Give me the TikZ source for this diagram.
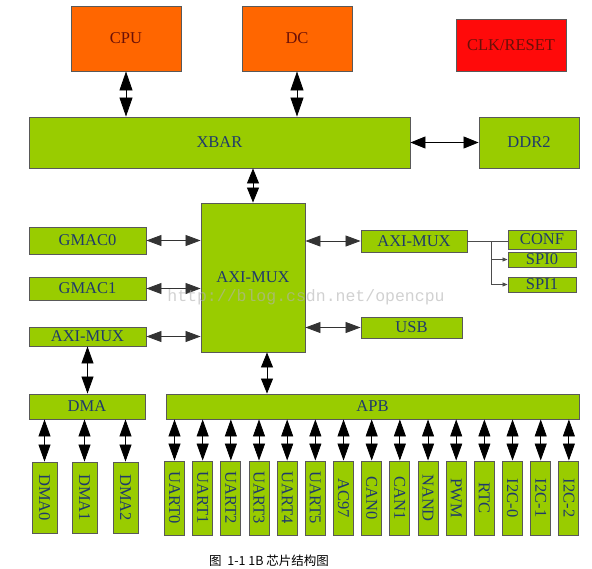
\documentclass[tikz,border=0pt]{standalone}
\usepackage{fontspec}
\setmainfont{Liberation Serif}
\setmonofont{Liberation Mono}
\newfontfamily\cjk{Noto Sans CJK SC}
\usetikzlibrary{arrows.meta}
\definecolor{blkgreen}{HTML}{99CC00}
\definecolor{blkorange}{HTML}{FF6600}
\definecolor{blkred}{HTML}{FF0A0A}
\definecolor{txtblue}{HTML}{1F3A6B}
\definecolor{txtred}{HTML}{6A1008}
\begin{document}
\begin{tikzpicture}[x=1pt, y=-1pt,
        box/.style={draw=black!65, line width=0.9pt, inner sep=0pt, font=\fontsize{16.5}{18}\selectfont},
        gbox/.style={box, fill=blkgreen, text=txtblue},
        obox/.style={box, fill=blkorange, text=txtred},
        vbox/.style={gbox, minimum width=20, minimum height=74},
        bigarr/.style={{Triangle[length=19pt,width=13pt]}-{Triangle[length=19pt,width=13pt]}, line width=0.8pt},
        midarr/.style={{Triangle[length=15pt,width=12pt]}-{Triangle[length=15pt,width=12pt]}, line width=0.8pt},
        lowarr/.style={{Triangle[length=17pt,width=12pt]}-{Triangle[length=17pt,width=12pt]}, line width=0.8pt},
        harr/.style={{Triangle[length=15pt,width=11pt]}-{Triangle[length=15pt,width=11pt]}, line width=0.8pt, draw=black!80},
        tiparr/.style={-{Triangle[length=5pt,width=4pt]}, line width=0.7pt, draw=black!70}]
    \useasboundingbox (0,0) rectangle (592,568);
    % top row
    \node[obox, minimum width=110, minimum height=65] (cpu) at (126,38.5) {CPU};
    \node[obox, minimum width=110, minimum height=65] (dc) at (297,38.5) {DC};
    \node[box, fill=blkred, text=txtred, minimum width=110, minimum height=52] (clk) at (511,45) {CLK/RESET};
    \node[gbox, minimum width=381, minimum height=51] (xbar) at (219.5,142.5) {XBAR};
    \node[gbox, minimum width=100, minimum height=51] (ddr) at (529,142.5) {DDR2};
    % middle
    \node[gbox, minimum width=104, minimum height=149] (axi) at (253,277.5) {AXI-MUX};
    \node[gbox, minimum width=117, minimum height=27] (gmac0) at (87.5,240.5) {GMAC0};
    \node[gbox, minimum width=117, minimum height=23] (gmac1) at (87.5,288.5) {GMAC1};
    \node[gbox, minimum width=117, minimum height=19] (lmux) at (87.5,336.5) {AXI-MUX};
    \node[gbox, minimum width=106, minimum height=22] (rmux) at (414,241) {AXI-MUX};
    \node[gbox, minimum width=68, minimum height=19] (conf) at (542,239.5) {CONF};
    \node[gbox, minimum width=68, minimum height=15] (spi0) at (542,259.5) {SPI0};
    \node[gbox, minimum width=68, minimum height=15] (spi1) at (542,284.5) {SPI1};
    \node[gbox, minimum width=101, minimum height=21] (usb) at (411.5,327.5) {USB};
    % buses
    \node[gbox, minimum width=116, minimum height=25] (dma) at (87,406.5) {DMA};
    \node[gbox, minimum width=413, minimum height=25] (apb) at (372.5,406.5) {APB};
    \foreach \n/\x in {0/44.5,1/84.5,2/125.5}
        \node[vbox, minimum width=25, minimum height=71] (dma\n) at (\x,497.5) {\rotatebox{-90}{DMA\n}};
    \foreach \lbl [count=\i from 0] in {UART0,UART1,UART2,UART3,UART4,UART5,AC97,CAN0,CAN1,NAND,PWM,RTC,I2C-0,I2C-1,I2C-2}
        \node[vbox] (p\i) at ({174.5+28.17*\i},498) {\rotatebox{-90}{\lbl}};
    % connections
    \draw[bigarr] (cpu) -- (xbar.north -| cpu);
    \draw[bigarr] (dc) -- (xbar.north -| dc);
    \draw[midarr] (xbar) -- (ddr);
    \draw[midarr] (axi) -- (xbar.south -| axi);
    \draw[harr] (gmac0) -- (axi.west |- gmac0);
    \draw[harr] (gmac1) -- (axi.west |- gmac1);
    \draw[harr] (lmux) -- (axi.west |- lmux);
    \draw[harr] (axi.east |- rmux) -- (rmux);
    \draw[harr] (axi.east |- usb) -- (usb);
    \coordinate (apbin) at ([xshift=14pt]axi.south);
    \draw[midarr] (apbin) -- (apb.north -| apbin);
    \draw[lowarr] (lmux) -- (dma.north -| lmux);
    \foreach \i in {0,1,2}
        \draw[lowarr] (dma.south -| dma\i) -- (dma\i);
    \foreach \i in {0,...,14}
        \draw[lowarr] (apb.south -| p\i) -- (p\i);
    \coordinate (br) at (491,241);
    \draw[line width=0.7pt, draw=black!70] (rmux) -- (conf.west |- rmux);
    \draw[tiparr] (br) |- (spi0);
    \draw[tiparr] (br) |- (spi1);
    % watermark and caption
    \node[font=\ttfamily\fontsize{16.5}{18}\selectfont, text=black!30, opacity=0.6] (wm) at (306,297) {http://blog.csdn.net/opencpu};
    \node[font=\cjk\fontsize{12.5}{14}\selectfont] (cap) at (269,561) {图\ \ 1-1 1B 芯片结构图};
\end{tikzpicture}
\end{document}
